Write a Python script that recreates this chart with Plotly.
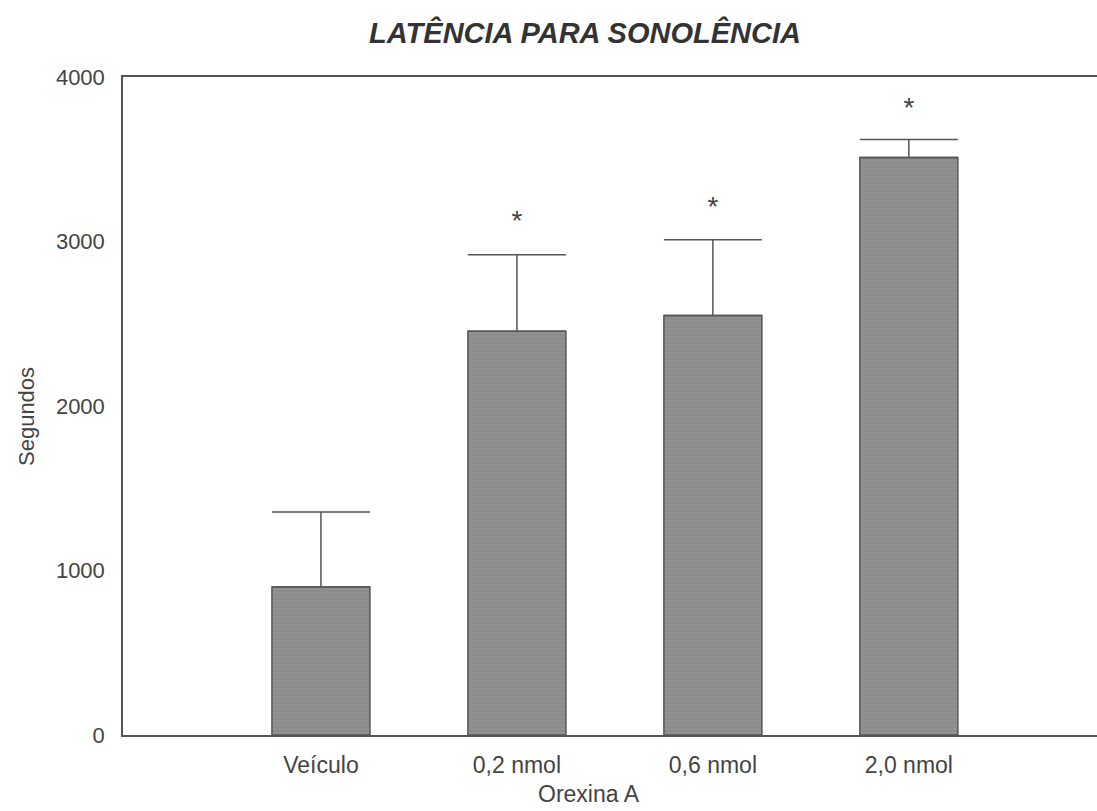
import plotly.graph_objects as go

categories = ["Veículo", "0,2 nmol", "0,6 nmol", "2,0 nmol"]
means = [900, 2455, 2550, 3510]
errors_plus = [455, 465, 460, 110]
star_y = [None, 3110, 3195, 3800]
y_ticks = [0, 1000, 2000, 3000, 4000]

xpos = list(range(len(categories)))

fig = go.Figure()
fig.add_trace(go.Bar(
    x=xpos, y=means, width=0.5,
    marker=dict(color="#8c8c8c", line=dict(color="#555555", width=1.5),
                pattern=dict(shape="-", fgcolor="#7a7a7a", bgcolor="#919191", size=4, solidity=0.25)),
    error_y=dict(type="data", symmetric=False, array=errors_plus,
                 arrayminus=[0]*len(means), color="#555555", thickness=1.5, width=49),
    showlegend=False, hoverinfo="skip",
))
sx = [x for x, s in zip(xpos, star_y) if s is not None]
sy = [s for s in star_y if s is not None]
fig.add_trace(go.Scatter(
    x=sx, y=sy, mode="text", text=["*"]*len(sx), textposition="middle center",
    textfont=dict(size=28, color="#444444", family="Liberation Sans, Arial"),
    showlegend=False, hoverinfo="skip",
))

fig.update_layout(
    width=1097, height=811,
    margin=dict(l=123, r=0, t=77, b=76),
    paper_bgcolor="white", plot_bgcolor="white",
    font=dict(family="Liberation Sans, Arial", size=22, color="#444444"),
    title=dict(text="<b><i>LATÊNCIA PARA SONOLÊNCIA</i></b>", x=585/1097, xanchor="center",
               y=1 - 33/811, yanchor="middle", font=dict(size=29, color="#333333")),
    xaxis=dict(range=[-1.01, 3.96], tickmode="array", tickvals=xpos, ticktext=categories,
               showgrid=False, zeroline=False, ticks="", showline=True, linecolor="#555555",
               linewidth=1.5, mirror=True, ticklabelstandoff=9, tickfont=dict(size=23)),
    yaxis=dict(range=[0, 4000], tickmode="array", tickvals=y_ticks,
               showgrid=False, zeroline=False, ticks="", showline=True, linecolor="#555555",
               linewidth=1.5, ticklabelstandoff=12, tickfont=dict(size=22)),
    annotations=[
        dict(text="Orexina A", xref="paper", yref="paper",
             x=(589 - 123) / 974, y=(735 - 794) / 658,
             xanchor="center", yanchor="middle", showarrow=False,
             font=dict(size=23, color="#444444")),
        dict(text="Segundos", xref="paper", yref="paper",
             x=(26 - 123) / 974, y=(735 - 417) / 658, textangle=-90,
             xanchor="center", yanchor="middle", showarrow=False,
             font=dict(size=22, color="#444444")),
    ],
)

fig.write_html("out.html")
